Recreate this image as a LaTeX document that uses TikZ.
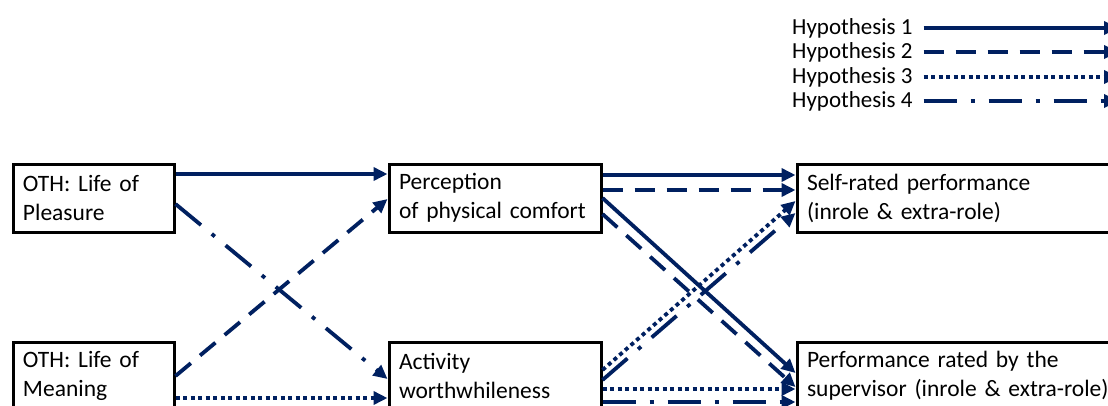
\documentclass[tikz,border=0pt]{standalone}
\usepackage{fontspec}
\setmainfont{Carlito}
\usetikzlibrary{arrows.meta}
\definecolor{navy}{HTML}{002060}
\tikzset{
  box/.style={draw,line width=3pt,minimum height=68pt,inner xsep=10pt,align=left,
    font=\fontsize{23.5}{29}\selectfont},
  legtxt/.style={anchor=west,inner sep=5pt,font=\fontsize{23}{28.5}\selectfont},
  link/.style={navy,line width=3.8pt,-{Triangle[length=14pt,width=13pt]}},
  hyp1/.style={link},
  hyp2/.style={link,dash pattern=on 20pt off 12pt},
  hyp3/.style={link,dash pattern=on 4pt off 3.5pt},
  hyp4/.style={link,dash pattern=on 33pt off 14pt on 4pt off 14pt},
}
\begin{document}
\begin{tikzpicture}[x=1pt,y=-1pt]
    \useasboundingbox (0,0) rectangle (1108,405);
    \fill[white] (0,0) rectangle (1108,405);
    \clip (0,0) rectangle (1108,405);
    % legend
    \coordinate (lend) at (1118,0);
    \node[legtxt] (leg1) at (787,28) {Hypothesis 1};
    \node[legtxt] (leg2) at (787,52) {Hypothesis 2};
    \node[legtxt] (leg3) at (787,77) {Hypothesis 3};
    \node[legtxt] (leg4) at (787,101) {Hypothesis 4};
    \draw[hyp1] ([xshift=6pt]leg1.east) -- (leg1.east -| lend);
    \draw[hyp2] ([xshift=6pt]leg2.east) -- (leg2.east -| lend);
    \draw[hyp3] ([xshift=6pt]leg3.east) -- (leg3.east -| lend);
    \draw[hyp4] ([xshift=6pt]leg4.east) -- (leg4.east -| lend);
    % boxes
    \node[box,minimum width=161pt,text width=141pt] (pleas)  at (93.5,198) {OTH: Life of\\Pleasure};
    \node[box,minimum width=161pt,text width=141pt] (mean)   at (93.5,376) {OTH: Life of\\Meaning};
    \node[box,minimum width=212pt,text width=192pt] (percep) at (495,198) {Perception\\of physical comfort};
    \node[box,minimum width=212pt,text width=192pt] (activ)  at (495,376) {Activity\\worthwhileness};
    \node[box,minimum width=325pt,text width=305pt] (self)   at (959.5,198) {Self-rated performance\\(inrole \& extra-role)};
    \node[box,minimum width=325pt,text width=305pt] (superv) at (959.5,376) {Performance rated by the\\supervisor (inrole \& extra-role)};
    % first stage
    \draw[hyp1] ([yshift=24pt]pleas.east) -- ([yshift=24pt]percep.west);
    \draw[hyp4] ([yshift=-6pt]pleas.east) -- ([yshift=-3pt]activ.west);
    \draw[hyp2] (mean.east) -- ([yshift=-1pt]percep.west);
    \draw[hyp3] ([yshift=-22pt]mean.east) -- ([yshift=-22pt]activ.west);
    % second stage
    \draw[hyp1] ([yshift=23pt]percep.east) -- ([yshift=23pt]self.west);
    \draw[hyp2] ([yshift=8pt]percep.east) -- ([yshift=8pt]self.west);
    \draw[hyp1] (percep.east) -- ([yshift=3pt]superv.west);
    \draw[hyp2] ([yshift=-16pt]percep.east) -- ([yshift=-11pt]superv.west);
    \draw[hyp3] ([yshift=6pt]activ.east) -- ([yshift=-3pt]self.west);
    \draw[hyp4] ([yshift=-4pt]activ.east) -- ([yshift=-15pt]self.west);
    \draw[hyp3] ([yshift=-13pt]activ.east) -- ([yshift=-13pt]superv.west);
    \draw[hyp4] ([yshift=-26pt]activ.east) -- ([yshift=-26pt]superv.west);
\end{tikzpicture}
\end{document}
